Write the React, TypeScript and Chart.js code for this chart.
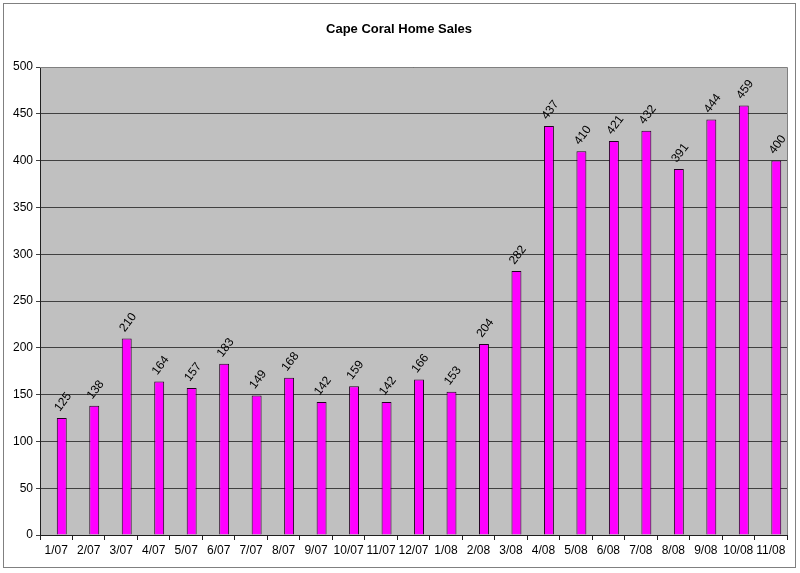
import React, { useEffect, useRef } from "react";
import { Chart, registerables } from "chart.js";

Chart.register(...registerables);

const categories = ["1/07","2/07","3/07","4/07","5/07","6/07","7/07","8/07","9/07","10/07","11/07","12/07","1/08","2/08","3/08","4/08","5/08","6/08","7/08","8/08","9/08","10/08","11/08"];
const sales = [125,138,210,164,157,183,149,168,142,159,142,166,153,204,282,437,410,421,432,391,444,459,400];
const emptySeries = categories.map(() => null);
const yTicks = [0,50,100,150,200,250,300,350,400,450,500];
const titleText = "Cape Coral Home Sales";

const FONT = "Arial, 'Liberation Sans', sans-serif";

const decorPlugin = {
  id: "decor",
  beforeDraw(chart: any) {
    const { ctx, chartArea } = chart;
    ctx.save();
    ctx.fillStyle = "#ffffff";
    ctx.fillRect(0, 0, chart.width, chart.height);
    ctx.fillStyle = "#C0C0C0";
    ctx.fillRect(chartArea.left, chartArea.top, chartArea.right - chartArea.left, chartArea.bottom - chartArea.top);
    ctx.strokeStyle = "#808080";
    ctx.lineWidth = 1;
    ctx.strokeRect(3.5, 3.5, 792, 564);
    ctx.fillStyle = "#000";
    ctx.font = `bold 13px ${FONT}`;
    ctx.textAlign = "center";
    ctx.textBaseline = "middle";
    ctx.fillText(titleText, 399, 29);
    ctx.restore();
  },
  afterDraw(chart: any) {
    const { ctx, chartArea } = chart;
    ctx.save();
    ctx.strokeStyle = "#808080";
    ctx.lineWidth = 1;
    ctx.beginPath();
    ctx.moveTo(chartArea.left, chartArea.top + 0.5);
    ctx.lineTo(chartArea.right + 0.5, chartArea.top + 0.5);
    ctx.lineTo(chartArea.right + 0.5, chartArea.bottom);
    ctx.stroke();
    const meta = chart.getDatasetMeta(1);
    ctx.fillStyle = "#000";
    ctx.font = `12px ${FONT}`;
    ctx.textAlign = "left";
    ctx.textBaseline = "alphabetic";
    meta.data.forEach((bar: any, i: number) => {
      ctx.save();
      ctx.translate(bar.x - 2, bar.y - 6);
      ctx.rotate(-53 * Math.PI / 180);
      ctx.fillText(String(sales[i]), 0, 0);
      ctx.restore();
    });
    ctx.restore();
  },
};

export default function App() {
  const ref = useRef<HTMLCanvasElement>(null);
  useEffect(() => {
    document.body.style.margin = "0";
    const chart = new Chart(ref.current!, {
      type: "bar",
      data: {
        labels: categories,
        datasets: [
          {
            data: emptySeries,
            backgroundColor: "rgba(0,0,0,0)",
            borderWidth: 0,
            barPercentage: 0.9,
            categoryPercentage: 0.68,
          },
          {
            data: sales,
            backgroundColor: "#FF00FF",
            borderColor: "#200020",
            borderWidth: 1,
            barPercentage: 0.9,
            categoryPercentage: 0.68,
          },
        ],
      },
      options: {
        animation: false,
        responsive: false,
        devicePixelRatio: 1,
        layout: { padding: { left: 0, right: 13, top: 67, bottom: 0 } },
        plugins: { legend: { display: false }, tooltip: { enabled: false }, title: { display: false } },
        scales: {
          x: {
            offset: true,
            grid: { display: true, drawOnChartArea: false, drawTicks: true, tickLength: 5, offset: true, color: "#202020" },
            border: { display: true, color: "#202020", width: 1 },
            ticks: { color: "#000", font: { family: FONT, size: 12 }, maxRotation: 0, autoSkip: false, padding: 3 },
            afterFit(s: any) { s.height = 38; },
          },
          y: {
            min: 0,
            max: 500,
            afterBuildTicks(s: any) { s.ticks = yTicks.map((v) => ({ value: v })); },
            grid: { color: "#404040", drawTicks: true, tickLength: 4 },
            border: { display: true, color: "#202020", width: 1 },
            ticks: { color: "#000", font: { family: FONT, size: 12 }, padding: 3 },
            afterFit(s: any) { s.width = 40; },
          },
        },
      },
      plugins: [decorPlugin],
    });
    return () => chart.destroy();
  }, []);
  return (
    <div style={{ position: "absolute", left: 0, top: 0, width: 800, height: 573 }}>
      <canvas ref={ref} width={800} height={573} style={{ width: 800, height: 573, display: "block" }} />
    </div>
  );
}
